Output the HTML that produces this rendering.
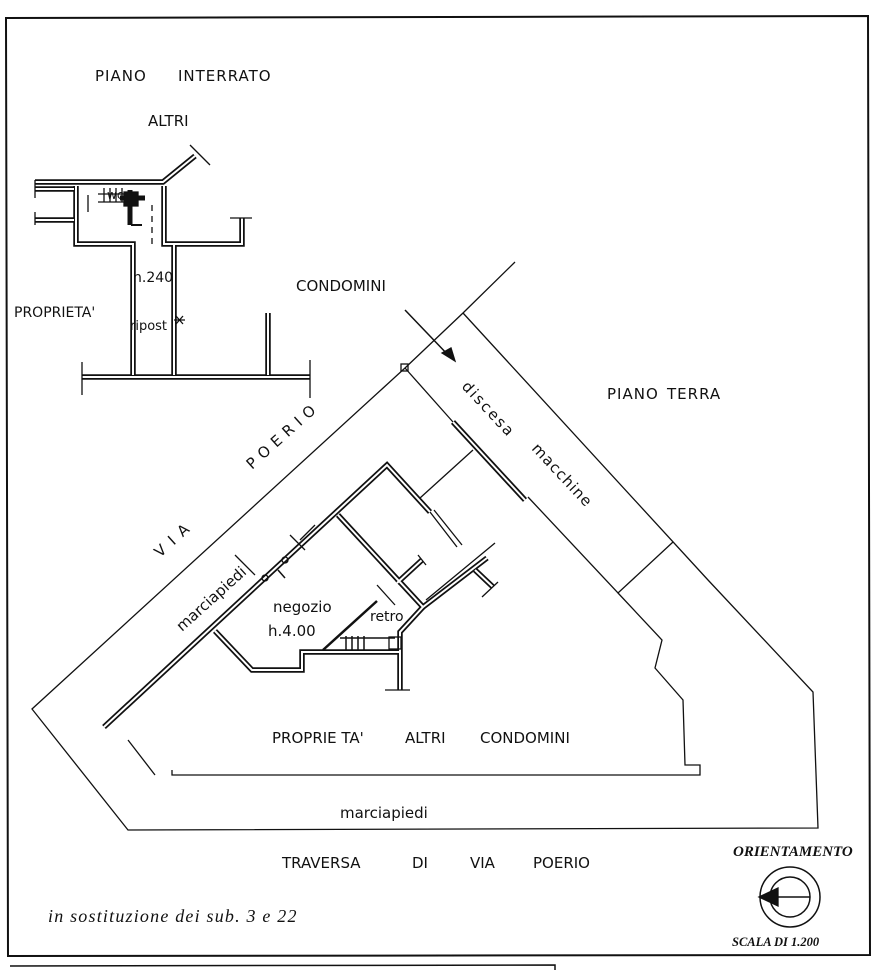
<!DOCTYPE html>
<html><head><meta charset="utf-8"><style>
html,body{margin:0;padding:0;background:#fff;}
svg{display:block;}
.s{font-family:"DejaVu Sans","Liberation Sans",sans-serif;fill:#111;}
.i{font-family:"Liberation Serif",serif;font-style:italic;fill:#111;}
.w{stroke:#111;stroke-width:5.5;fill:none;}
.wi{stroke:#fff;stroke-width:2;fill:none;}
</style></head><body>
<svg width="882" height="970" viewBox="0 0 882 970" xmlns="http://www.w3.org/2000/svg">
<defs>
<path id="bw1" d="M35 182 L163 182 L195 156"/>
<path id="bw2" d="M35 189 L74 189 M35 220 L74 220"/>
<path id="bw3" d="M76 186 L76 244 L133 244 L133 375"/>
<path id="bw4" d="M164 186 L164 244 L242 244 L242 218"/>
<path id="bw5" d="M174 244 L174 375"/>
<path id="bw6" d="M82 377 L310 377"/>
<path id="bw7" d="M268 313 L268 375"/>
<path id="sw1" d="M104 727 L387 465 L430 512"/>
<path id="sw2" d="M338 515 L423 607 L487 558"/>
<path id="sw3" d="M423 607 L400 632 L400 690"/>
<path id="sw4" d="M215 631 L252 670 L302 670 L302 652 L400 652"/>
<path id="sw5" d="M397 583 L422 560"/>
<path id="sw6" d="M453 422 L525 500"/>
<path id="sw7" d="M475 570 L493 587"/>
</defs>
<g stroke="#111" fill="none" stroke-width="1.3">
<path d="M6 18 L868 16 L870 955 L8 956 Z" stroke-width="2"/>
<path d="M10 966 L555 965 L555 970" stroke-width="1.5"/>
</g>
<g class="w"><use href="#bw1"/><use href="#bw2"/><use href="#bw3"/><use href="#bw4"/><use href="#bw5"/><use href="#bw6"/><use href="#bw7"/>
<use href="#sw1"/><use href="#sw2"/><use href="#sw3"/><use href="#sw4"/><use href="#sw5"/><use href="#sw6"/><use href="#sw7"/></g>
<g class="wi"><use href="#bw1"/><use href="#bw2"/><use href="#bw3"/><use href="#bw4"/><use href="#bw5"/><use href="#bw6"/><use href="#bw7"/>
<use href="#sw1"/><use href="#sw2"/><use href="#sw3"/><use href="#sw4"/><use href="#sw5"/><use href="#sw6"/><use href="#sw7"/></g>
<g stroke="#111" fill="none" stroke-width="1.3">
<path d="M190 145 L210 165"/>
<path d="M35 180 L35 198 M35 212 L35 225"/>
<path d="M230 218 L252 218"/>
<path d="M82 362 L82 395 M310 360 L310 398"/>
<path d="M152 205 L152 248" stroke-dasharray="6 5"/>
<path d="M88 195 L88 212"/>
<path d="M98 194 L130 194 M98 202 L132 202 M104 188 L104 202 M110 188 L110 202 M116 188 L116 202 M122 188 L122 202"/>
<path d="M130 190 L130 225 M120 198 L145 198" stroke-width="5"/>
<path d="M124 192 L138 192 L138 206 L124 206 Z" fill="#111"/>
<path d="M131 225 L142 225" stroke-width="2"/>
<path d="M174 320 L185 320 M176 316 L183 324 M183 316 L176 324"/>

<path d="M515 262 L463 313 L405 368 L32 709 L128 830 L818 828 L813 692 L708 580 L463 313"/>
<path d="M405 368 L453 422 M528 497 L618 593 L673 542"/>
<path d="M618 593 L662 640 L655 668 L683 700 L685 765 L700 765 L700 775 L172 775 L172 770"/>
<path d="M405 310 L450 357" stroke-width="1.5"/>
<path d="M442 353 L455 361 L451 348 Z" fill="#111"/>
<rect x="401" y="364" width="7" height="7"/>

<path d="M430 512 L457 547 M434 510 L462 545"/>
<path d="M420 498 L473 450"/>
<path d="M426 600 L495 543"/>
<path d="M482 597 L498 582 M418 555 L426 565"/>
<path d="M377 585 L395 605"/>
<path d="M323 650 L377 601" stroke-width="2.5"/>
<path d="M340 638 L395 638 M346 636 L346 650 M352 636 L352 650 M358 636 L358 650 M364 636 L364 650" stroke-width="1.5"/>
<rect x="389" y="637" width="12" height="12"/>
<path d="M385 690 L410 690"/>
<path d="M300 540 L315 525 M290 535 L305 550 M235 555 L255 575"/>
<circle cx="285" cy="560" r="3"/><circle cx="265" cy="578" r="3"/>
<path d="M278 570 L285 578" stroke-width="1.5"/>
<path d="M128 740 L155 775"/>

<circle cx="790" cy="897" r="30" stroke-width="1.5"/>
<circle cx="790" cy="897" r="20" stroke-width="1.5"/>
<path d="M760 897 L810 897" stroke-width="1.5"/>
<path d="M759 897 L778 888 L778 906 Z" fill="#111"/>
</g>

<g font-size="15">
<text class="s" x="95" y="81" letter-spacing="1">PIANO</text>
<text class="s" x="178" y="81" letter-spacing="1">INTERRATO</text>
<text class="s" x="148" y="126">ALTRI</text>
<text class="s" x="296" y="291">CONDOMINI</text>
<text class="s" x="14" y="317" font-size="14">PROPRIETA'</text>
<text class="s" x="133" y="282" font-size="14">h.240</text>
<text class="s" x="130" y="330" font-size="13">ripost</text>
<text class="s" x="107" y="199" font-size="12">wc</text>
<text class="s" x="607" y="399" letter-spacing="1">PIANO</text>
<text class="s" x="667" y="399" letter-spacing="1">TERRA</text>
<text class="s" x="272" y="743">PROPRIE TA'</text>
<text class="s" x="405" y="743">ALTRI</text>
<text class="s" x="480" y="743">CONDOMINI</text>
<text class="s" x="340" y="818">marciapiedi</text>
<text class="s" x="282" y="868">TRAVERSA</text>
<text class="s" x="412" y="868">DI</text>
<text class="s" x="470" y="868">VIA</text>
<text class="s" x="533" y="868">POERIO</text>
<text class="s" x="273" y="612">negozio</text>
<text class="s" x="268" y="636">h.4.00</text>
<text class="s" x="370" y="621" font-size="14">retro</text>
<text class="s" transform="translate(160,558) rotate(-42)" letter-spacing="8">VIA</text>
<text class="s" transform="translate(252,470) rotate(-42)" letter-spacing="6">POERIO</text>
<text class="s" transform="translate(182,632) rotate(-42)">marciapiedi</text>
<text class="s" transform="translate(461,387) rotate(47)" letter-spacing="2">discesa</text>
<text class="s" transform="translate(531,449) rotate(47)" letter-spacing="1">macchine</text>
</g>
<text class="i" x="48" y="922" font-size="18" letter-spacing="1.2">in  sostituzione dei sub. 3 e 22</text>
<text class="i" x="733" y="856" font-weight="bold" font-size="15">ORIENTAMENTO</text>
<text class="i" x="732" y="946" font-weight="bold" font-size="12.5">SCALA DI 1.200</text>
</svg>
</body></html>
